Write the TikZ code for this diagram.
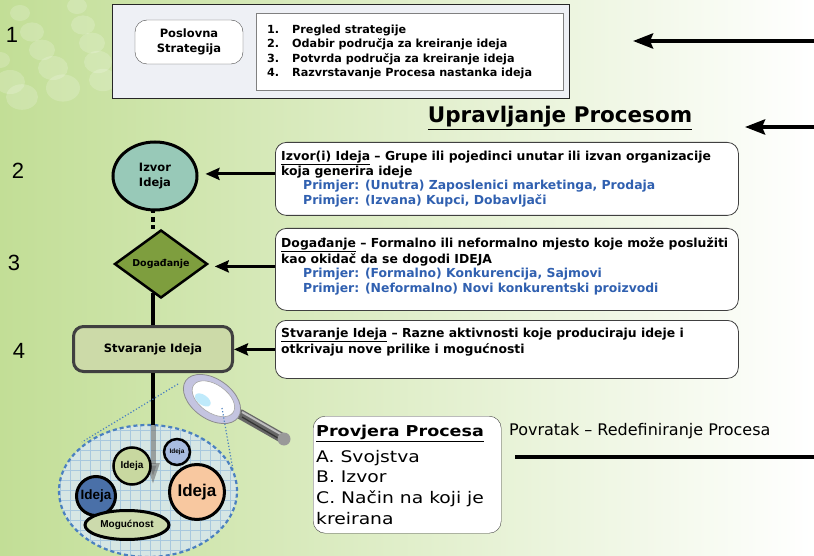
\documentclass[tikz,border=0pt]{standalone}
\usepackage{fontspec}
\setmainfont{DejaVu Sans}
\newfontfamily\arialf{Liberation Sans}
\newfontfamily\widef[FakeStretch=1.17]{DejaVu Sans}
\usetikzlibrary{shapes.geometric,arrows.meta,calc}
\definecolor{bgL}{RGB}{194,222,150}
\definecolor{bgM}{RGB}{230,241,212}
\definecolor{boxgray}{RGB}{238,240,245}
\definecolor{tealf}{RGB}{152,201,184}
\definecolor{olivef}{RGB}{126,158,62}
\definecolor{stvf}{RGB}{204,218,168}
\definecolor{bluet}{RGB}{48,96,176}
\definecolor{lensblue}{RGB}{74,128,192}
\definecolor{gridfill}{RGB}{214,230,228}
\definecolor{gridline}{RGB}{168,200,222}
\definecolor{idgreen}{RGB}{200,216,160}
\definecolor{idsky}{RGB}{168,188,224}
\definecolor{idpeach}{RGB}{248,200,160}
\definecolor{idblue}{RGB}{74,112,168}
\definecolor{mogf}{RGB}{204,218,172}
\definecolor{rimc}{RGB}{196,196,224}
\begin{document}
\begin{tikzpicture}[x=1pt,y=-1pt,
  bigarr/.style={line width=4pt,-{Stealth[length=20pt,width=15pt,inset=3pt]}},
  conarr/.style={line width=3pt,-{Stealth[length=14pt,width=12pt,inset=2pt]}},
  infobox/.style={draw=black!75,line width=0.8pt,rounded corners=11pt,fill=white,minimum width=463pt,anchor=north west,inner sep=0pt},
  infotext/.style={anchor=north west,align=left,inner sep=0pt,font=\bfseries\fontsize{12.4}{14.5}\selectfont},
  num/.style={font=\arialf\fontsize{22}{22}\selectfont},
  idc/.style={circle,draw=black,line width=2.5pt,inner sep=0pt},
  nodetxt/.style={font=\bfseries\fontsize{11.5}{14.5}\selectfont,align=center},
]
\useasboundingbox (0,0) rectangle (814,556);
% background
\shade[left color=bgL,middle color=bgM,right color=white] (0,0) rectangle (814,556);
\foreach \bx/\by/\br in {20/13/10,32/32/12,42/50/13,53/68/15,63/88/17,10/82/15,22/97/16,77/6/10,83/25/12,92/43/13,98/62/14,103/80/14,0/60/10}
  \fill[white,opacity=0.18] (\bx,\by) ellipse ({\br} and {\br*0.8});

% top section
\node[draw=black!85,fill=boxgray,line width=1.3pt,minimum width=457pt,minimum height=94pt,anchor=north west,inner sep=0pt] (topbox) at (112,4) {};
\node[draw=black!70,rounded corners=12pt,fill=white,minimum width=108pt,minimum height=44pt,nodetxt] (posl) at (189,42) {Poslovna\\Strategija};
\node[draw=black!50,fill=white,minimum width=307pt,minimum height=77pt,anchor=north west,inner sep=0pt] (list) at (256,13) {};
\node[anchor=west,align=left,inner sep=0pt,font=\bfseries\fontsize{11.2}{14.5}\selectfont] (listtxt) at (267,52)
  {\makebox[25pt][l]{1.}Pregled strategije\\\makebox[25pt][l]{2.}Odabir područja za kreiranje ideja\\\makebox[25pt][l]{3.}Potvrda područja za kreiranje ideja\\\makebox[25pt][l]{4.}Razvrstavanje Procesa nastanka ideja};

\coordinate (a1s) at (814,41);
\coordinate (a1e) at (633,41);
\draw[bigarr] (a1s) -- (a1e);
\coordinate (a2s) at (814,127);
\coordinate (a2e) at (745,127);
\draw[bigarr] (a2s) -- (a2e);

\node[font=\bfseries\fontsize{21.5}{22}\selectfont] (title) at (560,118) {\underline{Upravljanje Procesom}};

% numbers
\node[num] (n1) at (12,35) {1};
\node[num] (n2) at (18,171) {2};
\node[num] (n3) at (14,263) {3};
\node[num] (n4) at (19,351) {4};

% flow nodes
\node[ellipse,draw,line width=3pt,fill=tealf,minimum width=84pt,minimum height=68pt,inner sep=0pt,nodetxt] (izvor) at (155,176) {Izvor\\Ideja};
\node[diamond,draw,line width=2.5pt,fill=olivef,minimum width=93pt,minimum height=68pt,aspect=1.37,inner sep=0pt,nodetxt,font=\bfseries\fontsize{9.5}{12}\selectfont] (dog) at (161,264) {Događanje};
\node[draw=black!75,line width=3pt,rounded corners=10pt,fill=stvf,minimum width=159pt,minimum height=45pt,nodetxt] (stv) at (153,349) {Stvaranje Ideja};

\draw[line width=4pt,dash pattern=on 5pt off 3.5pt,dash phase=3pt] (izvor.south -| stv.north) -- (stv.north |- dog.north);
\draw[line width=4pt] (stv.north |- dog.south) ++(0,-6) -- (stv.north);

% info boxes
\node[infobox,minimum height=73pt] (boxA) at (275,142) {};
\node[infotext] (txtA) at (281,151)
  {\underline{Izvor(i) Ideja} – Grupe ili pojedinci unutar ili izvan organizacije\\koja generira ideje\\
   {\color{bluet}\hspace*{22pt}Primjer: (Unutra) Zaposlenici marketinga, Prodaja}\\
   {\color{bluet}\hspace*{22pt}Primjer: (Izvana) Kupci, Dobavljači}};
\node[infobox,minimum height=82pt] (boxB) at (275,228) {};
\node[infotext] (txtB) at (281,237.5)
  {\underline{Događanje} – Formalno ili neformalno mjesto koje može poslužiti\\kao okidač da se dogodi IDEJA\\
   {\color{bluet}\hspace*{22pt}Primjer: (Formalno) Konkurencija, Sajmovi}\\
   {\color{bluet}\hspace*{22pt}Primjer: (Neformalno) Novi konkurentski proizvodi}};
\node[infobox,minimum height=58pt] (boxC) at (275,320) {};
\node[infotext] (txtC) at (281,328)
  {\underline{Stvaranje Ideja} – Razne aktivnosti koje produciraju ideje i\\otkrivaju nove prilike i mogućnosti};

\draw[conarr,shorten >=7pt] (boxA.west) ++(0,-5) -- (izvor.east |- {$(boxA.west)+(0,-5)$});
\draw[conarr,shorten >=6pt] (boxB.west) ++(0,-3) -- (dog.east |- {$(boxB.west)+(0,-3)$});
\draw[conarr] (boxC.west) -- (boxC.west -| stv.east);

% zoom ellipse
\begin{scope}
  \clip (148,491) ellipse (89 and 66);
  \fill[gridfill] (50,420) rectangle (240,560);
  \draw[gridline,line width=0.7pt,step=10pt] (50,420) grid (240,560);
\end{scope}
\node[ellipse,draw=lensblue,line width=2.2pt,dash pattern=on 4pt off 3pt,minimum width=178pt,minimum height=132pt] (zell) at (148,491) {};

\coordinate (gtop) at (153,425);
\coordinate (gend) at (153,485);
\draw[line width=4pt] (stv.south) -- (gtop);
\draw[line width=5pt,draw=gray!80!black,opacity=0.55,-{Triangle[length=22pt,width=12pt]}] (gtop) -- (gend);

\node[idc,fill=idgreen,minimum size=37pt,font=\arialf\bfseries\fontsize{10}{10}\selectfont] (i1) at (132,466) {Ideja};
\node[idc,fill=idsky,minimum size=26pt,font=\arialf\bfseries\fontsize{6.5}{6.5}\selectfont] (i2) at (177,452) {Ideja};
\node[idc,fill=idpeach,minimum size=55pt,line width=3pt,font=\arialf\bfseries\fontsize{17}{17}\selectfont] (i3) at (197,492) {Ideja};
\node[idc,fill=idblue,minimum size=39pt,line width=3pt,font=\arialf\bfseries\fontsize{13.5}{13.5}\selectfont] (i4) at (96,496) {Ideja};
\node[ellipse,draw=black,line width=3pt,fill=mogf,minimum width=84pt,minimum height=29pt,inner sep=0pt,font=\arialf\bfseries\fontsize{10}{10}\selectfont] (mog) at (127,525) {Mogućnost};

% magnifier
\draw[line width=10pt,draw=black!60,line cap=round] (240,414) -- (284,439);
\draw[line width=2pt,draw=black!25] (242,412) -- (284,436);
\draw[line width=1.2pt,draw=black!80] (242,417) -- (283,441);
\fill[black!40] (284,439) circle (6.5);
\fill[rimc,draw=black!45,line width=0.8pt,rotate around={-35:(212,399)}] (212,399) ellipse (32 and 20);
\fill[white,draw=black!35,line width=0.6pt,rotate around={-35:(212,399)}] (213,398) ellipse (24 and 14);
\fill[cyan!25,rotate around={-35:(212,399)}] (205,405) ellipse (9 and 5);
\fill[white,rotate around={-35:(212,399)}] (222,393) ellipse (5 and 3);
\coordinate (l1) at (178,384);
\coordinate (l1e) at (82,442);
\coordinate (l2) at (222,408);
\coordinate (l2e) at (233,470);
\draw[lensblue,line width=1.2pt,dotted] (l1) -- (l1e);
\draw[lensblue,line width=1.2pt,dotted] (l2) -- (l2e);

% provjera
\node[draw=black!75,rounded corners=12pt,fill=white,minimum width=188pt,minimum height=117pt,anchor=north west,inner sep=0pt] (prov) at (313,416) {};
\node[anchor=north west,align=left,inner sep=0pt,font=\widef\fontsize{16}{20.7}\selectfont] (provtxt) at (316,425)
  {{\bfseries\fontsize{15}{20.7}\selectfont\underline{Provjera Procesa}}\\[5pt]A. Svojstva\\B. Izvor\\C. Način na koji je\\kreirana};

\node[anchor=west,inner sep=0pt,font=\fontsize{16}{16}\selectfont] (pov) at (509,431) {Povratak – Redefiniranje Procesa};
\coordinate (p1) at (515,457);
\coordinate (p2) at (814,457);
\draw[line width=4pt] (p1) -- (p2);
\end{tikzpicture}
\end{document}
